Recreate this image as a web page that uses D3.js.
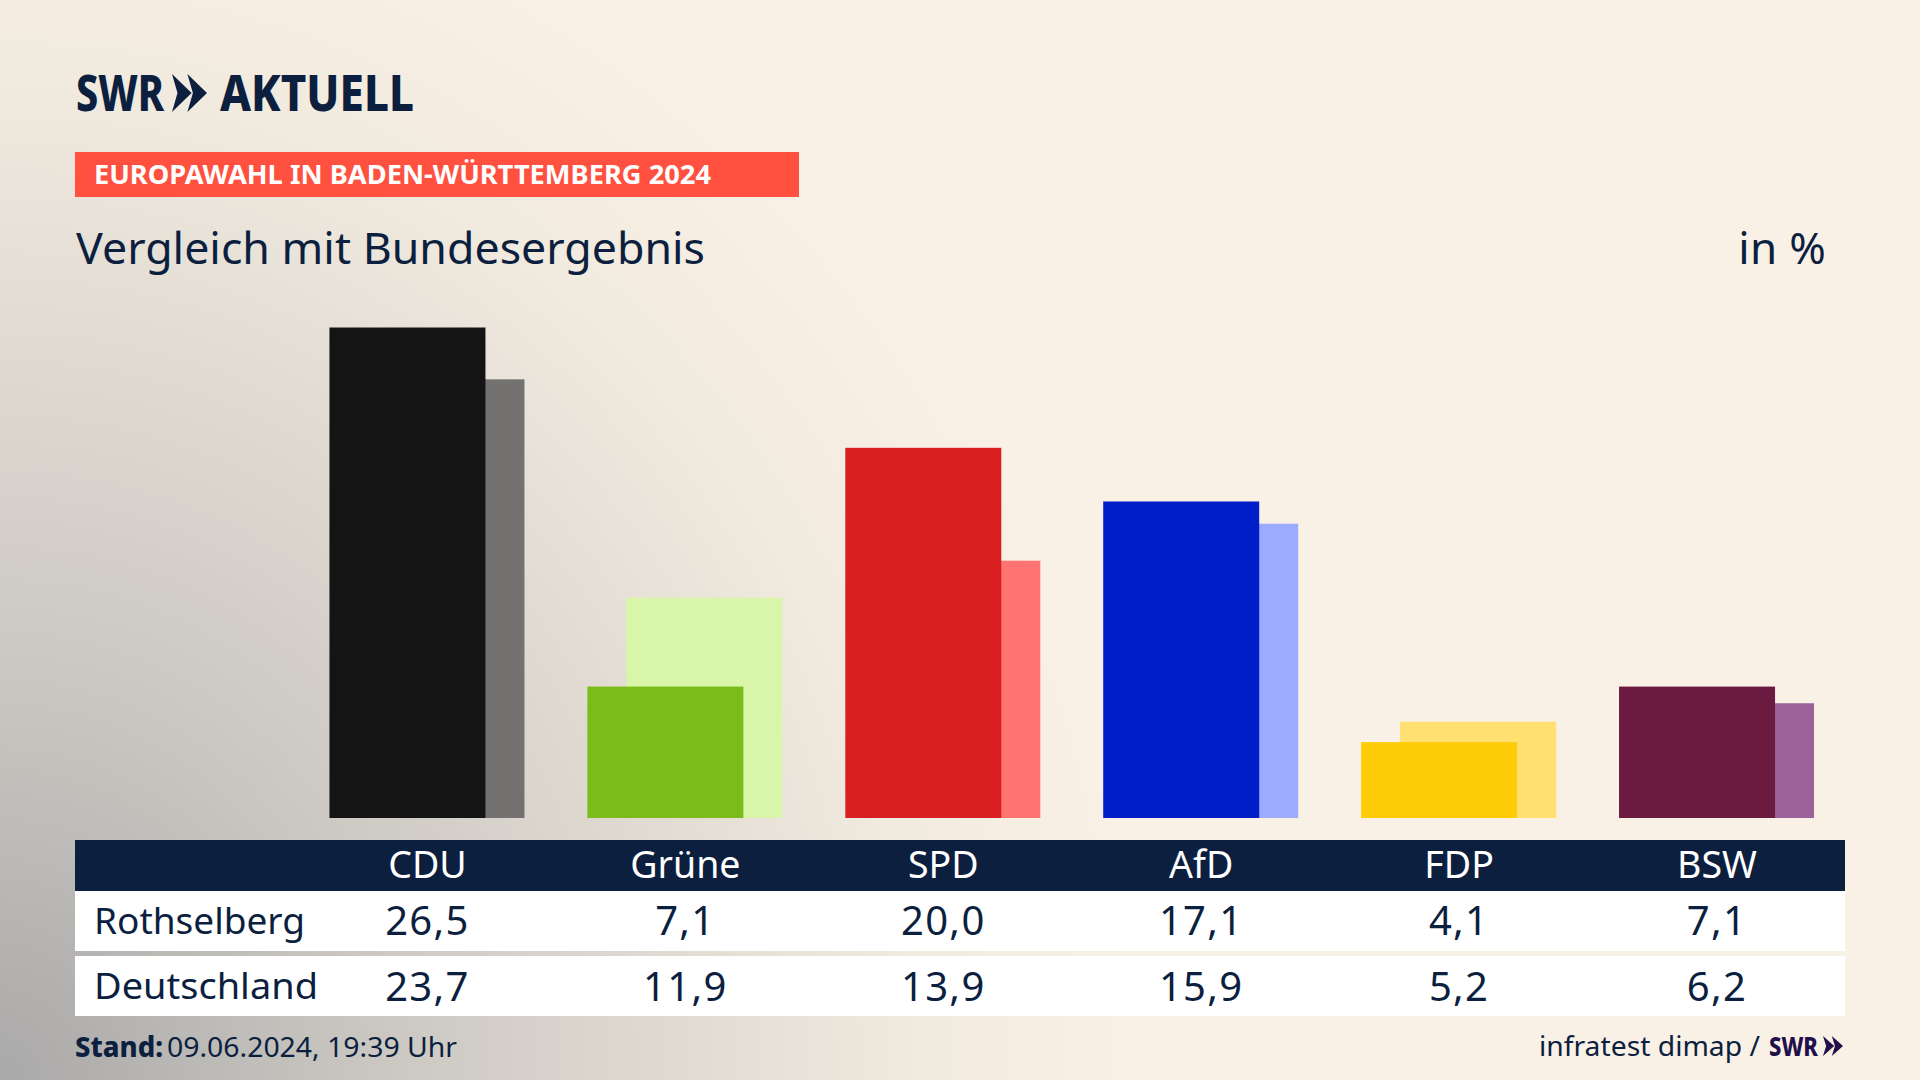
<!DOCTYPE html>
<html lang="de">
<head>
<meta charset="utf-8">
<title>Vergleich mit Bundesergebnis</title>
<script src="https://cdn.jsdelivr.net/npm/d3@7/dist/d3.min.js"></script>
<style>
html,body{margin:0;padding:0;background:#faf1e6;overflow:hidden}
svg{display:block}
text{font-family:"Noto Sans",sans-serif;fill:#0c1f3f}
</style>
</head>
<body>
<svg id="chart" width="1920" height="1080" viewBox="0 0 1920 1080"></svg>
<script>
const parties = ["CDU","Grüne","SPD","AfD","FDP","BSW"];
const rothselberg = [26.5,7.1,20.0,17.1,4.1,7.1];
const deutschland = [23.7,11.9,13.9,15.9,5.2,6.2];
const mainColors = ["#141414","#7abd1a","#d91f1f","#001fc8","#ffcc0a","#6b1a40"];
const lightColors = ["#737270","#d8f5aa","#ff7370","#9dabff","#ffe070","#9b6199"];
const rowNames = ["Rothselberg","Deutschland"];
const fmt = v => v.toFixed(1).replace(".",",");

const NAVY = "#0c1f3f";
const svg = d3.select("#chart");

// background
const defs = svg.append("defs");
const grad = defs.append("radialGradient").attr("id","bg")
  .attr("gradientUnits","userSpaceOnUse")
  .attr("cx",0).attr("cy",0).attr("r",1)
  .attr("gradientTransform","translate(0,1080) scale(1150,1250)");
[[0,"#aaa9a9"],[0.3,"#c8c5c0"],[0.56,"#ded8d0"],[0.8,"#f1eadf"],[1,"#faf1e6"]]
  .forEach(([o,c])=>grad.append("stop").attr("offset",o).attr("stop-color",c));
svg.append("rect").attr("width",1920).attr("height",1080).attr("fill","#faf1e6");
svg.append("rect").attr("width",1920).attr("height",1080).attr("fill","url(#bg)");

function chevrons(g,x0,y0,w,h,fill){
  const cw = w*0.56, step = w-cw;
  [0,step].forEach(dx=>{
    const p = d3.path();
    p.moveTo(x0+dx,y0);
    p.lineTo(x0+dx+cw,y0+h/2);
    p.lineTo(x0+dx,y0+h);
    p.lineTo(x0+dx+cw*0.28,y0+h/2);
    p.closePath();
    g.append("path").attr("d",p.toString()).attr("fill",fill);
  });
}
function label(txt,x,y,size,opts={}){
  const t = svg.append("text").attr("x",x).attr("y",y).attr("font-size",size).text(txt);
  if(opts.weight) t.attr("font-weight",opts.weight);
  if(opts.anchor) t.attr("text-anchor",opts.anchor);
  if(opts.fill) t.style("fill",opts.fill);
  if(opts.spacing) t.attr("letter-spacing",opts.spacing);
  if(opts.len) t.attr("textLength",opts.len).attr("lengthAdjust","spacingAndGlyphs");
  return t;
}

// logo
label("SWR",76,111,50,{weight:800,len:88});
chevrons(svg,172,74,35,38,NAVY);
label("AKTUELL",220,111,50,{weight:800,len:194});

// kicker + title
svg.append("rect").attr("x",75).attr("y",152).attr("width",724).attr("height",45).attr("fill","#ff5040");
label("EUROPAWAHL IN BADEN-WÜRTTEMBERG 2024",94,184,27,{weight:700,fill:"#fff",len:617});
label("Vergleich mit Bundesergebnis",76,264,44,{len:629});
label("in %",1826,264,44,{anchor:"end",spacing:0.3});

// scales
const x = d3.scaleBand().domain(parties).range([298.5,1846]);
const y = d3.scaleLinear().domain([0,26.5]).range([818,327.5]);
const barW = 156, shift = 39;
const cx = p => x(p)+x.bandwidth()/2;

svg.append("g").selectAll("rect").data(parties).join("rect")
  .attr("x",p=>cx(p)-98+shift).attr("width",barW)
  .attr("y",(p,i)=>y(deutschland[i])).attr("height",(p,i)=>y(0)-y(deutschland[i]))
  .attr("fill",(p,i)=>lightColors[i]);
svg.append("g").selectAll("rect").data(parties).join("rect")
  .attr("x",p=>cx(p)-98).attr("width",barW)
  .attr("y",(p,i)=>y(rothselberg[i])).attr("height",(p,i)=>y(0)-y(rothselberg[i]))
  .attr("fill",(p,i)=>mainColors[i]);

// table
svg.append("rect").attr("x",75).attr("y",840).attr("width",1770).attr("height",51).attr("fill",NAVY);
svg.append("rect").attr("x",75).attr("y",891).attr("width",1770).attr("height",60).attr("fill","#fff");
svg.append("rect").attr("x",75).attr("y",956).attr("width",1770).attr("height",60).attr("fill","#fff");

parties.forEach(p=>label(p,cx(p),878,37.5,{anchor:"middle",fill:"#fff"}));
label(rowNames[0],94,934,37,{len:211});
label(rowNames[1],94,999,37,{len:224});
parties.forEach((p,i)=>{
  label(fmt(rothselberg[i]),cx(p),935,40,{anchor:"middle",spacing:1.3});
  label(fmt(deutschland[i]),cx(p),1001,40,{anchor:"middle",spacing:1.3});
});

// footer
label("Stand:",75,1057,28,{weight:800,len:88});
label("09.06.2024, 19:39 Uhr",167,1057,28,{len:290});
label("infratest dimap /",1539,1056,28,{len:221});
label("SWR",1769,1056,26,{weight:800,fill:"#22104a",len:49});
chevrons(svg,1823,1036,20,20,"#22104a");
</script>
</body>
</html>
